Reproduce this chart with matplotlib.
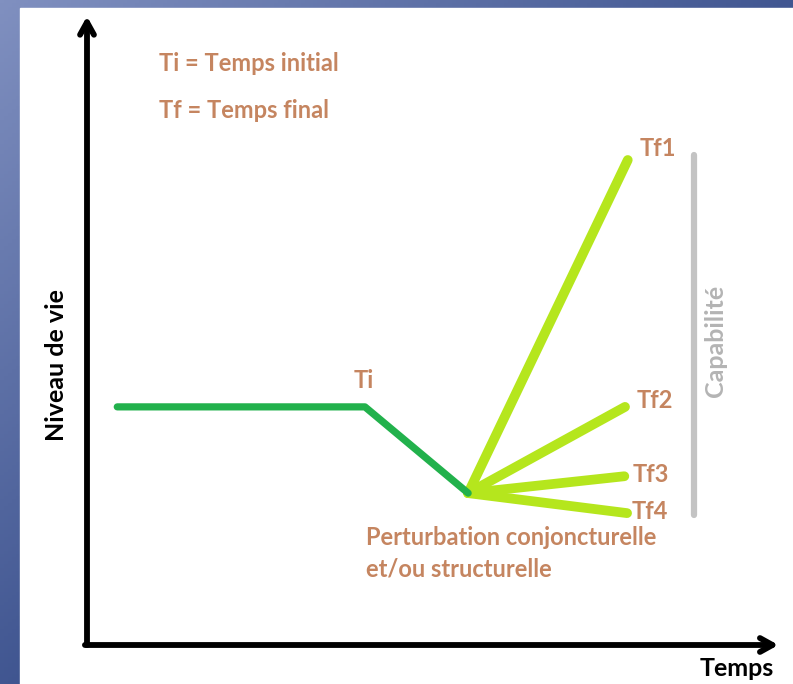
import numpy as np
import matplotlib
matplotlib.use('Agg')
import matplotlib.pyplot as plt

# Diagram values (Temps on x, Niveau de vie on y, both 0..100)
ti_x = [4.4, 40.4, 55.4]
ti_y = [38.1, 38.1, 24.3]

fan_origin = (55.4, 24.3)
tf_labels = ['Tf1', 'Tf2', 'Tf3', 'Tf4']
tf_x = [78.6, 78.2, 78.1, 78.5]
tf_y = [77.6, 38.1, 27.0, 21.1]

capa_x = 88.2
capa_y = [20.8, 78.4]

W, H = 793, 684
fig = plt.figure(figsize=(W / 100, H / 100), dpi=100)

# blue frame background
bg = fig.add_axes([0, 0, 1, 1])
xx, yy = np.meshgrid(np.linspace(0, 1, 200), np.linspace(0, 1, 200))
t = np.clip(xx * 0.9 + yy * 0.9, 0, 1)
light = np.array([0x80, 0x90, 0xc0]) / 255
dark = np.array([0x3a, 0x50, 0x8c]) / 255
img = light[None, None, :] * (1 - t[..., None]) + dark[None, None, :] * t[..., None]
bg.imshow(img, extent=[0, W, H, 0], aspect='auto')
bg.add_patch(plt.Rectangle((20, 8), W - 20, H - 8, color='white'))
bg.set_xlim(0, W)
bg.set_ylim(H, 0)
bg.axis('off')

txt = '#c58560'
font = 'Lato'
fs = 17

ax = fig.add_axes([87 / W, (H - 645) / H, (775 - 87) / W, (645 - 20) / H])
ax.set_xlim(0, 100)
ax.set_ylim(0, 100)
ax.axis('off')
ax.patch.set_alpha(0)

# axes with arrows
arrow = dict(arrowstyle='->,head_length=0.9,head_width=0.5', lw=4.2, color='black',
             capstyle='round', joinstyle='round', shrinkA=0, shrinkB=0)
ax.annotate('', xy=(0, 100.6), xytext=(0, 0), arrowprops=arrow, annotation_clip=False)
ax.annotate('', xy=(100.5, 0), xytext=(-0.3, 0), arrowprops=arrow, annotation_clip=False)

# lines
for x, y in zip(tf_x, tf_y):
    ax.plot([fan_origin[0], x], [fan_origin[1], y], color='#b5e61d', lw=7,
            solid_capstyle='round', zorder=2)
ax.plot(ti_x, ti_y, color='#22b14c', lw=5.2, solid_capstyle='round',
        solid_joinstyle='round', zorder=3)
ax.plot([capa_x, capa_x], capa_y, color='#c3c3c3', lw=4.5, solid_capstyle='round')

# labels
label_dx = [1.7, 1.7, 1.2, 0.7]
label_dy = [1.9, 1.0, 0.3, 0.3]
for lab, x, y, dx, dy in zip(tf_labels, tf_x, tf_y, label_dx, label_dy):
    ax.text(x + dx, y + dy, lab, color=txt, fontsize=fs, fontweight='bold',
            family=font, ha='left', va='center')
ax.text(38.7, ti_y[1] + 4.3, 'Ti', color=txt, fontsize=fs, fontweight='bold',
        family=font, ha='left', va='center')
ax.text(10.5, 93.0, 'Ti = Temps initial', color=txt, fontsize=fs, fontweight='bold',
        family=font, ha='left', va='center')
ax.text(10.5, 85.5, 'Tf = Temps final', color=txt, fontsize=fs, fontweight='bold',
        family=font, ha='left', va='center')
ax.text(40.6, 17.2, 'Perturbation conjoncturelle', color=txt, fontsize=fs,
        fontweight='bold', family=font, ha='left', va='center')
ax.text(40.6, 12.1, 'et/ou structurelle', color=txt, fontsize=fs,
        fontweight='bold', family=font, ha='left', va='center')
ax.text(91.4, 48.6, 'Capabilité', color='#b4b4b4', fontsize=18, fontweight='bold',
        family=font, ha='center', va='center', rotation=90)
ax.text(-4.4, 44.8, 'Niveau de vie', color='black', fontsize=18, fontweight='bold',
        family=font, ha='center', va='center', rotation=90)
ax.text(94.5, -3.7, 'Temps', color='black', fontsize=18, fontweight='bold',
        family=font, ha='center', va='center')

fig.savefig('out.png', dpi=100)
